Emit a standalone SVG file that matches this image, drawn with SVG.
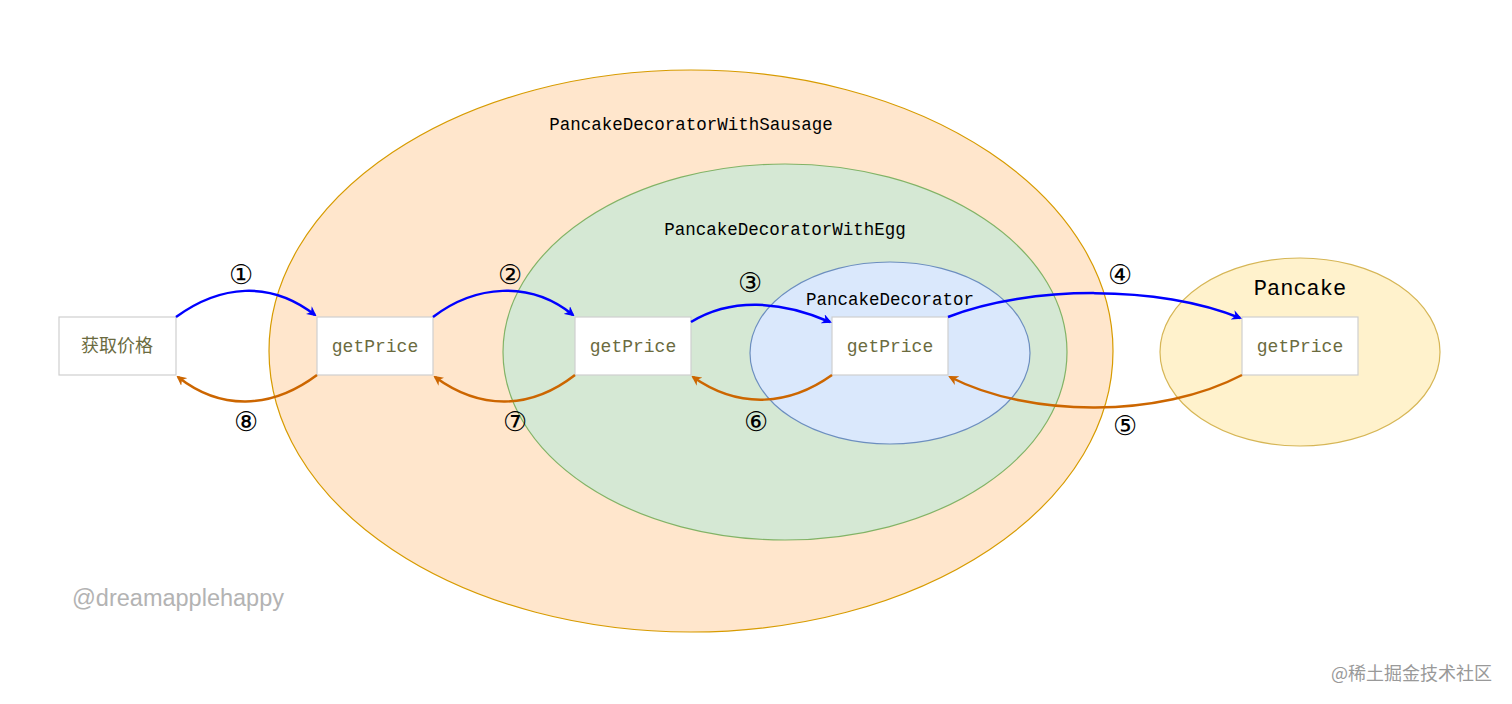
<svg xmlns="http://www.w3.org/2000/svg" width="1512" height="704" viewBox="0 0 1512 704">
<defs>
<marker id="ab" markerWidth="10" markerHeight="10" refX="8" refY="5" orient="auto" markerUnits="userSpaceOnUse"><path d="M0,0 L10,5 L0,10 L3,5 Z" fill="#0000ff"/></marker>
<marker id="ao" markerWidth="10" markerHeight="10" refX="8" refY="5" orient="auto" markerUnits="userSpaceOnUse"><path d="M0,0 L10,5 L0,10 L3,5 Z" fill="#cc6600"/></marker>
</defs>
<style>
.box{fill:#fff;stroke:#cfcfcf;stroke-width:1.2}
.bt{font-family:"Liberation Mono",monospace;font-size:18px;fill:#6b6b3f;text-anchor:middle}
.lbl{font-family:"Liberation Mono",monospace;font-size:17.5px;fill:#000;text-anchor:middle}
.num{font-family:"DejaVu Sans","Noto Sans CJK SC",sans-serif;font-size:27px;fill:#000;text-anchor:middle}
.b{fill:none;stroke:#0000ff;stroke-width:2.5;marker-end:url(#ab)}
.o{fill:none;stroke:#cc6600;stroke-width:2.5;marker-end:url(#ao)}
</style>
<rect width="1512" height="704" fill="#fff"/>
<g id="sausage"><ellipse cx="691" cy="351" rx="422" ry="281" fill="#ffe6cc" stroke="#d79b00" stroke-width="1.2"/><text class="lbl" x="691" y="130">PancakeDecoratorWithSausage</text></g>
<g id="egg"><ellipse cx="785" cy="352" rx="282" ry="188" fill="#d5e8d4" stroke="#82b366" stroke-width="1.2"/><text class="lbl" x="785" y="235">PancakeDecoratorWithEgg</text></g>
<g id="decorator"><ellipse cx="890" cy="353" rx="140" ry="91" fill="#dae8fc" stroke="#6c8ebf" stroke-width="1.2"/><text class="lbl" x="890" y="305">PancakeDecorator</text></g>
<g id="pancake"><ellipse cx="1300" cy="352" rx="140" ry="94" fill="#fff2cc" stroke="#d6b656" stroke-width="1.2"/><text class="lbl" x="1300" y="295" style="font-size:22px">Pancake</text></g>
<g id="n0"><rect class="box" x="59" y="317" width="117" height="58"/><text class="bt" x="117" y="352" style="font-family:'Noto Sans CJK SC',sans-serif">获取价格</text></g>
<g id="n1"><rect class="box" x="317" y="317" width="116" height="58"/><text class="bt" x="375" y="352">getPrice</text></g>
<g id="n2"><rect class="box" x="575" y="317" width="116" height="58"/><text class="bt" x="633" y="352">getPrice</text></g>
<g id="n3"><rect class="box" x="832" y="317" width="116" height="58"/><text class="bt" x="890" y="352">getPrice</text></g>
<g id="n4"><rect class="box" x="1242" y="317" width="116" height="58"/><text class="bt" x="1300" y="352">getPrice</text></g>
<g id="connectors">
<path class="b" d="M176,317 C220,285 270,280 315,315"/>
<path class="b" d="M433,317 C475,285 530,280 573,315"/>
<path class="b" d="M691,322 C730,298 780,300 830,322"/>
<path class="b" d="M948,317 C1030,285 1160,285 1240,318"/>
<path class="o" d="M1242,375 C1160,418 1030,418 950,377"/>
<path class="o" d="M832,375 C790,405 740,410 693,377"/>
<path class="o" d="M575,375 C530,410 480,410 435,377"/>
<path class="o" d="M317,375 C270,410 220,410 178,377"/>
</g>
<g id="labels">
<text class="num" x="241" y="284">①</text>
<text class="num" x="510" y="284">②</text>
<text class="num" x="750" y="292">③</text>
<text class="num" x="1120" y="284">④</text>
<text class="num" x="1125" y="435">⑤</text>
<text class="num" x="756" y="431">⑥</text>
<text class="num" x="515" y="431">⑦</text>
<text class="num" x="246" y="431">⑧</text>
</g>
<text x="72" y="606" font-family="Liberation Sans,sans-serif" font-size="23.5" fill="#b3b3b3">@dreamapplehappy</text>
<text x="1492" y="680" text-anchor="end" font-family="Noto Sans CJK SC,sans-serif" font-size="18" fill="#999">@稀土掘金技术社区</text>
</svg>
